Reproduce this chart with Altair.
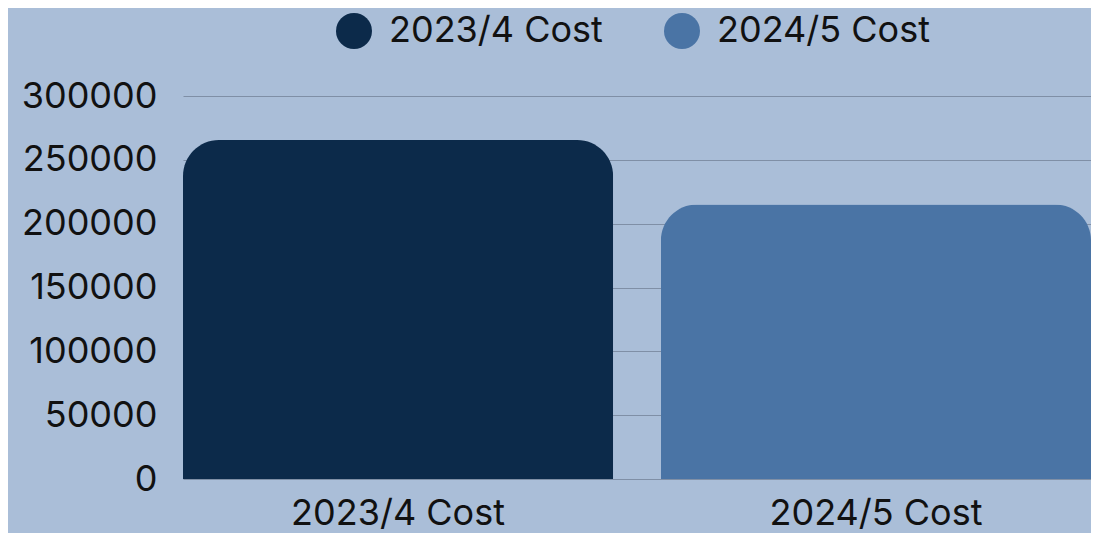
import altair as alt
import pandas as pd

categories = ["2023/4 Cost", "2024/5 Cost"]
values = [265500, 215000]
colors = ["#0c2a4a", "#4a74a5"]
y_ticks = [0, 50000, 100000, 150000, 200000, 250000, 300000]

df = pd.DataFrame({"category": categories, "value": values})

FONT = "Inter"
FS = 36
BG = "#aabed8"

chart = (
    alt.Chart(df)
    .mark_bar(cornerRadiusTopLeft=36, cornerRadiusTopRight=36)
    .encode(
        x=alt.X(
            "category:N",
            sort=categories,
            scale=alt.Scale(paddingInner=0.1, paddingOuter=0),
            axis=alt.Axis(
                title=None, labelAngle=0, ticks=False, domain=False,
                labelFontSize=FS, labelFont=FONT, labelColor="#111111",
                labelPadding=17, labelLimit=500,
            ),
        ),
        y=alt.Y(
            "value:Q",
            scale=alt.Scale(domain=[0, 300000]),
            axis=alt.Axis(
                title=None, values=y_ticks, ticks=False, domain=False,
                labelFontSize=FS, labelFont=FONT, labelColor="#111111",
                labelPadding=26, gridColor="#7f8fa6", gridWidth=1,
                format="d", labelLimit=500,
            ),
        ),
        color=alt.Color(
            "category:N",
            sort=categories,
            scale=alt.Scale(domain=categories, range=colors),
            legend=alt.Legend(
                title=None, orient="none", direction="horizontal",
                legendX=153, legendY=-83, symbolType="circle", symbolSize=1296,
                symbolStrokeWidth=0, labelFontSize=FS, labelFont=FONT,
                labelColor="#111111", labelOffset=17, columnPadding=61,
                padding=0, labelLimit=500,
            ),
        ),
    )
    .properties(
        width=908,
        height=383,
        background=BG,
        padding={"left": 175, "top": 88, "right": 0, "bottom": 54},
        autosize=alt.AutoSizeParams(type="none"),
    )
    .configure_view(stroke=None, fill=BG)
)

chart.save("out.html", embed_options={"renderer": "svg", "actions": False})
